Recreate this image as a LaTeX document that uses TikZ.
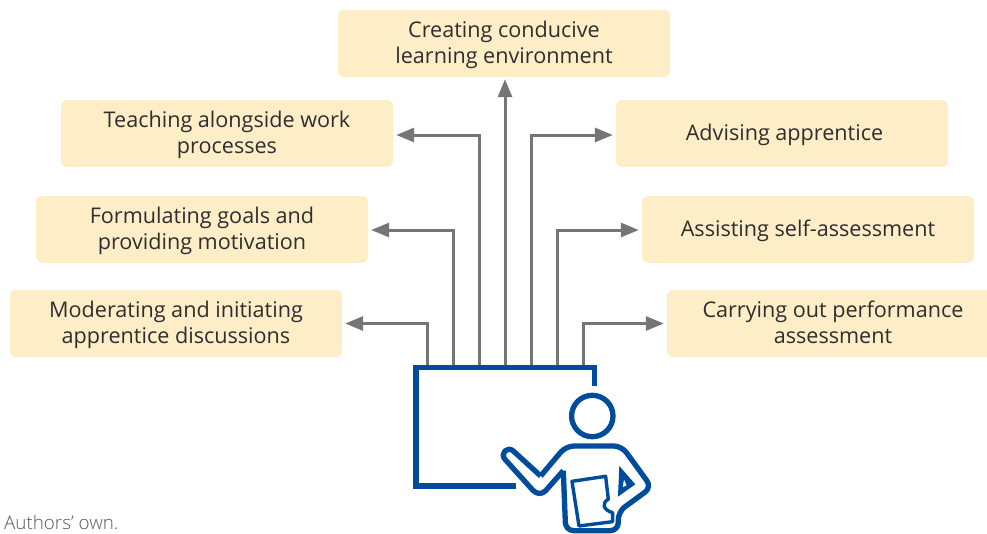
\documentclass[tikz,border=0pt]{standalone}
\usepackage{fontspec}
\setmainfont{Open Sans}
\usetikzlibrary{arrows.meta}
\definecolor{boxfill}{HTML}{FEEEC8}
\definecolor{conncol}{HTML}{757575}
\definecolor{figblue}{HTML}{004C9C}
\definecolor{txt}{HTML}{2E2E2E}
\newcommand\tst{\rule[-0.22\baselineskip]{0pt}{\baselineskip}}
\tikzset{
  task/.style={fill=boxfill,rounded corners=6pt,minimum width=332pt,minimum height=67pt,inner sep=0pt,
    align=center,text=txt,font=\fontsize{21.6}{26}\selectfont},
  conn/.style={draw=conncol,line width=3pt,-{Triangle[length=18pt,width=14pt]},shorten >=3pt},
  figline/.style={draw=figblue,line width=5.3pt,line join=round}
}
\begin{document}
\begin{tikzpicture}[x=1pt,y=-1pt]
\clip (0,0) rectangle (987,533);
\node[task] (top) at (504,43.5) {\tst Creating conducive\\\tst learning environment};
\node[task] (teach) at (227,133.5) {\tst Teaching alongside work\\\tst processes};
\node[task] (goals) at (202,229.3) {\tst Formulating goals and\\\tst providing motivation};
\node[task] (mod) at (176,323.5) {\tst Moderating and initiating\\\tst apprentice discussions};
\node[task] (adv) at (782,133.5) {\tst \hspace{5pt}Advising apprentice};
\node[task] (self) at (808,229.3) {\tst Assisting self-assessment};
\node[task] (perf) at (833,323.5) {\tst Carrying out performance\\\tst assessment};
\node[anchor=west,inner sep=0pt,text=black!65,font=\fontspec{Open Sans Light}\fontsize{18.8}{22}\selectfont] (cap) at (4,522) {Authors’ own.};
\coordinate (p1) at (427.6,367);
\coordinate (p2) at (453,367);
\coordinate (p3) at (479,367);
\coordinate (p4) at (505,367);
\coordinate (p5) at (531,367);
\coordinate (p6) at (557,367);
\coordinate (p7) at (583,367);
\draw[conn] (p1) |- (mod.east);
\draw[conn] (p2) |- ([yshift=-0.7pt]goals.east);
\draw[conn] (p3) |- ([yshift=-1.5pt]teach.east);
\draw[conn,shorten >=2pt] (p4) -- (p4 |- top.south);
\draw[conn] (p5) |- ([yshift=-1.5pt]adv.west);
\draw[conn] (p6) |- ([yshift=-0.7pt]self.west);
\draw[conn] (p7) |- (perf.west);
% board
\draw[draw=figblue,line width=5.5pt,line join=miter] (594.5,386) -- (594.5,367.5) -- (416,367.5) -- (416,486) -- (516,486);
% head
\draw[figline] (592.3,416) circle (20.7);
% figure, in zoomed coordinates
\begin{scope}[shift={(400,350)},x=0.3333pt,y=-0.3333pt]
\draw[figline]
  (422,378) -- (340,303) .. controls (322.5,287) and (299,310.5) .. (315,328) -- (398,420) .. controls (410,433) and (425,434) .. (437,422) -- (490,362);
\draw[figline,rounded corners=8pt]
  (422,378) -- (498,288) -- (665,288) -- (755,412) -- (655,485) -- (655,542) -- (497,542) -- (490,362);
\fill[figblue,even odd rule] (658,348) -- (706,403) -- (654,440) -- cycle (672,388) -- (680,406) -- (668,412) -- cycle;
\draw[draw=figblue,line width=3.4pt,line join=round]
  (516,394) -- (617,379) -- (625,448) .. controls (605,458) and (608,480) .. (638,488) -- (638,515) -- (537,528) -- cycle;
\end{scope}
\end{tikzpicture}
\end{document}
